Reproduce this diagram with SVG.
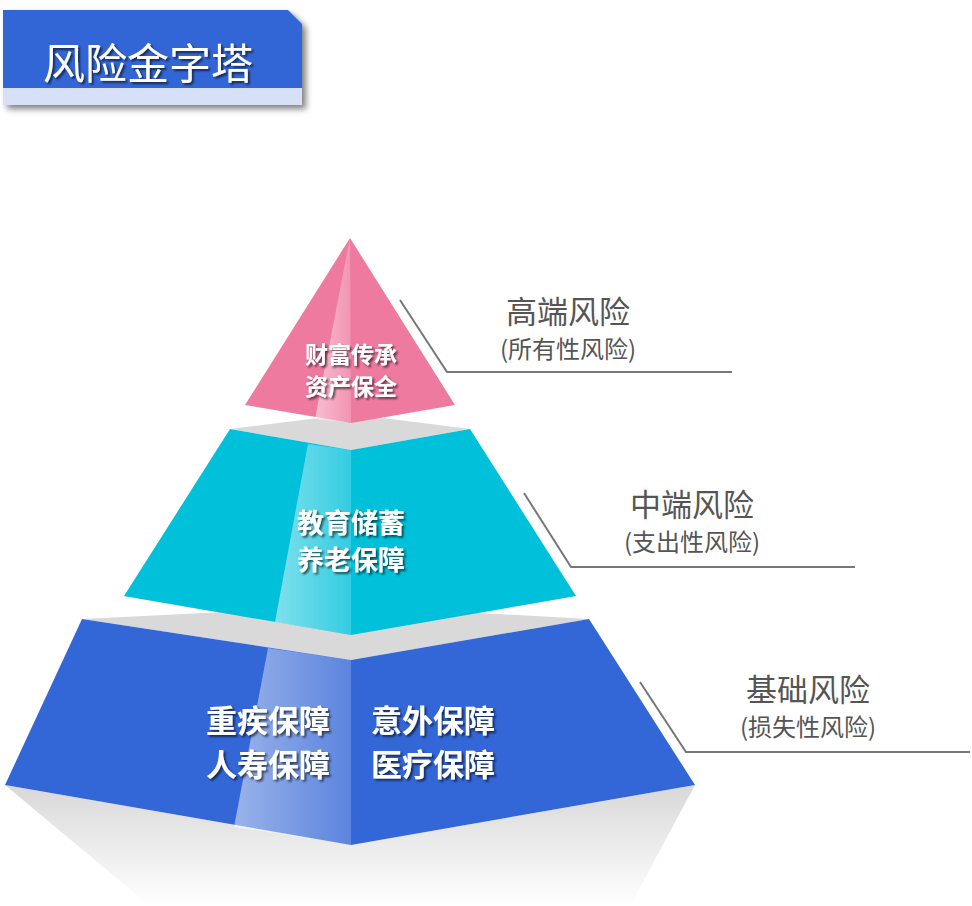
<svg xmlns="http://www.w3.org/2000/svg" width="972" height="906" viewBox="0 0 972 906">
<defs>
<filter id="sh" x="-10%" y="-10%" width="130%" height="140%"><feGaussianBlur in="SourceAlpha" stdDeviation="3"/><feOffset dx="4" dy="4"/><feComponentTransfer><feFuncA type="linear" slope="0.5"/></feComponentTransfer><feMerge><feMergeNode/><feMergeNode in="SourceGraphic"/></feMerge></filter>
<filter id="ts" x="-10%" y="-20%" width="130%" height="150%"><feGaussianBlur in="SourceAlpha" stdDeviation="1"/><feOffset dx="2" dy="2"/><feComponentTransfer><feFuncA type="linear" slope="0.6"/></feComponentTransfer><feMerge><feMergeNode/><feMergeNode in="SourceGraphic"/></feMerge></filter>
<linearGradient id="refl" x1="0" y1="0" x2="0" y2="1"><stop offset="0" stop-color="#d8d8d8"/><stop offset="1" stop-color="#ffffff"/></linearGradient>
<linearGradient id="hl" x1="0" y1="0" x2="1" y2="0"><stop offset="0" stop-color="#fff" stop-opacity="0.5"/><stop offset="1" stop-color="#fff" stop-opacity="0.2"/></linearGradient>
</defs>
<style>
.pt{font-family:"Noto Sans CJK SC",sans-serif;font-weight:bold;fill:#fff;text-anchor:middle}
.lb{font-family:"Noto Sans CJK SC",sans-serif;fill:#555;text-anchor:middle}
.ln{fill:none;stroke:#777;stroke-width:2}
</style>
<g id="title" filter="url(#sh)">
<polygon points="3,10 288,10 302,24 302,88 3,88" fill="#3366d6"/>
<rect x="3" y="88" width="299" height="17" fill="#d6e0f7"/>
<text x="148" y="79" font-family="Noto Sans CJK SC,sans-serif" font-size="42" fill="#fff" text-anchor="middle" filter="url(#ts)">风险金字塔</text>
</g>
<g id="reflection"><polygon points="5,785 351,845 695,785 630,906 150,906" fill="url(#refl)"/></g>
<g id="bottom">
<polygon points="82,619 351,606 589,619 351,660" fill="#d9d9d9"/>
<polygon points="82,619 351,660 589,619 695,785 351,845 5,785" fill="#3366d6"/>
<polygon points="268,648 351,660 351,845 234,827" fill="url(#hl)"/>
<text class="pt" font-size="31" x="268" y="732" filter="url(#ts)">重疾保障</text>
<text class="pt" font-size="31" x="268" y="776" filter="url(#ts)">人寿保障</text>
<text class="pt" font-size="31" x="433" y="732" filter="url(#ts)">意外保障</text>
<text class="pt" font-size="31" x="433" y="776" filter="url(#ts)">医疗保障</text>
</g>
<g id="middle">
<polygon points="230,429 351,414 470,429 351,450" fill="#d9d9d9"/>
<polygon points="124,596 351,578 576,596 351,635" fill="#d9d9d9"/>
<polygon points="230,429 351,450 470,429 576,596 351,635 124,596" fill="#00c0da"/>
<polygon points="308,444 351,450 351,635 275,622" fill="url(#hl)"/>
<text class="pt" font-size="27" x="351" y="533" filter="url(#ts)">教育储蓄</text>
<text class="pt" font-size="27" x="351" y="570" filter="url(#ts)">养老保障</text>
</g>
<g id="top">
<polygon points="350,238 455,405 351,423 245,405" fill="#ef7aa0"/>
<polygon points="350,238 351,423 315,419" fill="url(#hl)"/>
<text class="pt" font-size="23" x="351" y="363" filter="url(#ts)">财富传承</text>
<text class="pt" font-size="23" x="351" y="395" filter="url(#ts)">资产保全</text>
</g>
<g id="connectors">
<polyline class="ln" points="400,300 447,372 732,372"/>
<polyline class="ln" points="524,493 571,567 855,567"/>
<polyline class="ln" points="640,682 686,752 970,752"/>
</g>
<g id="labels">
<text class="lb" font-size="31" x="568" y="323">高端风险</text>
<text class="lb" font-size="24" x="568" y="358">(所有性风险)</text>
<text class="lb" font-size="31" x="692" y="516">中端风险</text>
<text class="lb" font-size="24" x="692" y="551">(支出性风险)</text>
<text class="lb" font-size="31" x="808" y="701">基础风险</text>
<text class="lb" font-size="24" x="808" y="736">(损失性风险)</text>
</g>
</svg>
